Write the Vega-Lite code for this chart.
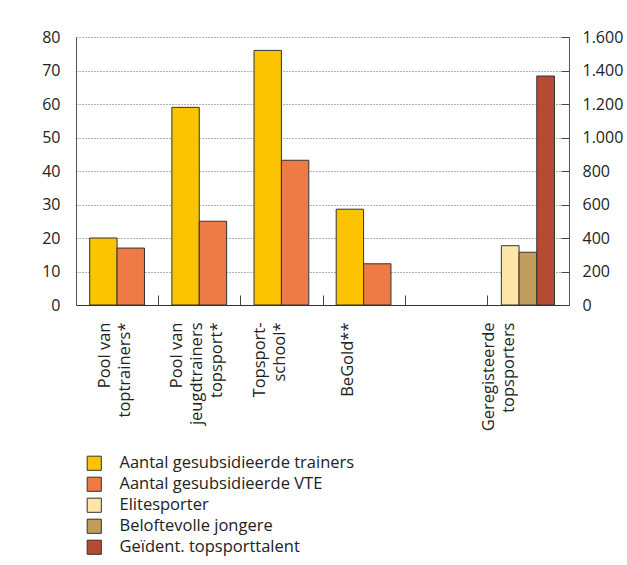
{
  "$schema": "https://vega.github.io/schema/vega-lite/v6.json",
  "width": 493,
  "height": 268,
  "autosize": "none",
  "padding": {"left": 76, "top": 37, "right": 58, "bottom": 260},
  "background": "#ffffff",
  "config": {
    "font": "Open Sans",
    "view": {"stroke": null},
    "axis": {"labelFont": "Open Sans", "labelColor": "#222222", "labelFontSize": 16, "domainColor": "#444444", "tickColor": "#444444", "title": null}
  },
  "datasets": {
    "left": [
      {"categorie": "Pool van|toptrainers*", "reeks": "Aantal gesubsidieerde trainers", "waarde": 20},
      {"categorie": "Pool van|toptrainers*", "reeks": "Aantal gesubsidieerde VTE", "waarde": 17},
      {"categorie": "Pool van|jeugdtrainers|topsport*", "reeks": "Aantal gesubsidieerde trainers", "waarde": 59},
      {"categorie": "Pool van|jeugdtrainers|topsport*", "reeks": "Aantal gesubsidieerde VTE", "waarde": 25},
      {"categorie": "Topsport-|school*", "reeks": "Aantal gesubsidieerde trainers", "waarde": 76},
      {"categorie": "Topsport-|school*", "reeks": "Aantal gesubsidieerde VTE", "waarde": 43.2},
      {"categorie": "BeGold**", "reeks": "Aantal gesubsidieerde trainers", "waarde": 28.6},
      {"categorie": "BeGold**", "reeks": "Aantal gesubsidieerde VTE", "waarde": 12.3}
    ],
    "right": [
      {"categorie": "Geregisteerde|topsporters", "reeks": "Elitesporter", "waarde": 354},
      {"categorie": "Geregisteerde|topsporters", "reeks": "Beloftevolle jongere", "waarde": 315},
      {"categorie": "Geregisteerde|topsporters", "reeks": "Geïdent. topsporttalent", "waarde": 1367}
    ]
  },
  "encoding": {
    "x": {
      "field": "categorie",
      "type": "nominal",
      "sort": null,
      "scale": {
        "domain": ["Pool van|toptrainers*", "Pool van|jeugdtrainers|topsport*", "Topsport-|school*", "BeGold**", " ", "Geregisteerde|topsporters"],
        "paddingInner": 0,
        "paddingOuter": 0
      },
      "axis": {
        "labelAngle": -90,
        "labelExpr": "split(datum.label, '|')",
        "labelFontSize": 16.5,
        "labelLineHeight": 20,
        "tickBand": "extent",
        "tickSize": -10,
        "labelPadding": 27,
        "domainColor": "#333333",
        "labelAlign": "right",
        "labelBaseline": "middle",
        "labelOffset": {"expr": "datum.value == 'Pool van|toptrainers*' ? -13 : datum.value == 'Pool van|jeugdtrainers|topsport*' ? -23 : datum.value == 'Topsport-|school*' ? -22 : datum.value == 'BeGold**' ? -16 : datum.value == 'Geregisteerde|topsporters' ? -39 : 0"}
      }
    },
    "color": {
      "field": "reeks",
      "type": "nominal",
      "scale": {
        "domain": ["Aantal gesubsidieerde trainers", "Aantal gesubsidieerde VTE", "Elitesporter", "Beloftevolle jongere", "Geïdent. topsporttalent"],
        "range": ["#fbc300", "#ed7b45", "#ffe6a8", "#c19d5b", "#b54a35"]
      },
      "legend": {
        "title": null,
        "orient": "none",
        "legendX": 10,
        "legendY": 418,
        "direction": "vertical",
        "symbolType": "square",
        "symbolSize": 200,
        "symbolStrokeColor": "#333333",
        "symbolStrokeWidth": 1,
        "symbolOpacity": 1,
        "labelFont": "Open Sans",
        "labelFontSize": 16.5,
        "labelColor": "#222222",
        "labelOffset": 17,
        "rowPadding": 2,
        "padding": 0,
        "labelLimit": 400
      }
    }
  },
  "layer": [
    {
      "data": {"name": "left"},
      "mark": {"type": "bar", "stroke": "#333333", "strokeWidth": 1},
      "encoding": {
        "xOffset": {"field": "reeks", "type": "nominal", "sort": ["Aantal gesubsidieerde trainers", "Aantal gesubsidieerde VTE"], "scale": {"paddingInner": 0, "paddingOuter": 0.5}},
        "y": {
          "field": "waarde",
          "type": "quantitative",
          "scale": {"domain": [0, 80]},
          "axis": {
            "values": [0, 10, 20, 30, 40, 50, 60, 70, 80],
            "grid": true,
            "gridDash": [1, 2],
            "gridColor": "#666666",
            "ticks": false,
            "labelPadding": 16,
            "domainColor": "#555555"
          }
        }
      }
    },
    {
      "data": {"name": "right"},
      "mark": {"type": "bar", "stroke": "#333333", "strokeWidth": 1},
      "encoding": {
        "xOffset": {"field": "reeks", "type": "nominal", "sort": ["Elitesporter", "Beloftevolle jongere", "Geïdent. topsporttalent"], "scale": {"paddingInner": 0, "paddingOuter": 0.82}},
        "y": {
          "field": "waarde",
          "type": "quantitative",
          "scale": {"domain": [0, 1600]},
          "axis": {
            "orient": "right",
            "values": [0, 200, 400, 600, 800, 1000, 1200, 1400, 1600],
            "labelExpr": "replace(format(datum.value, ','), ',', '.')",
            "grid": false,
            "ticks": true,
            "tickSize": -8,
            "labelPadding": 21,
            "domainColor": "#555555"
          }
        }
      }
    }
  ],
  "resolve": {"scale": {"y": "independent", "xOffset": "independent"}}
}
